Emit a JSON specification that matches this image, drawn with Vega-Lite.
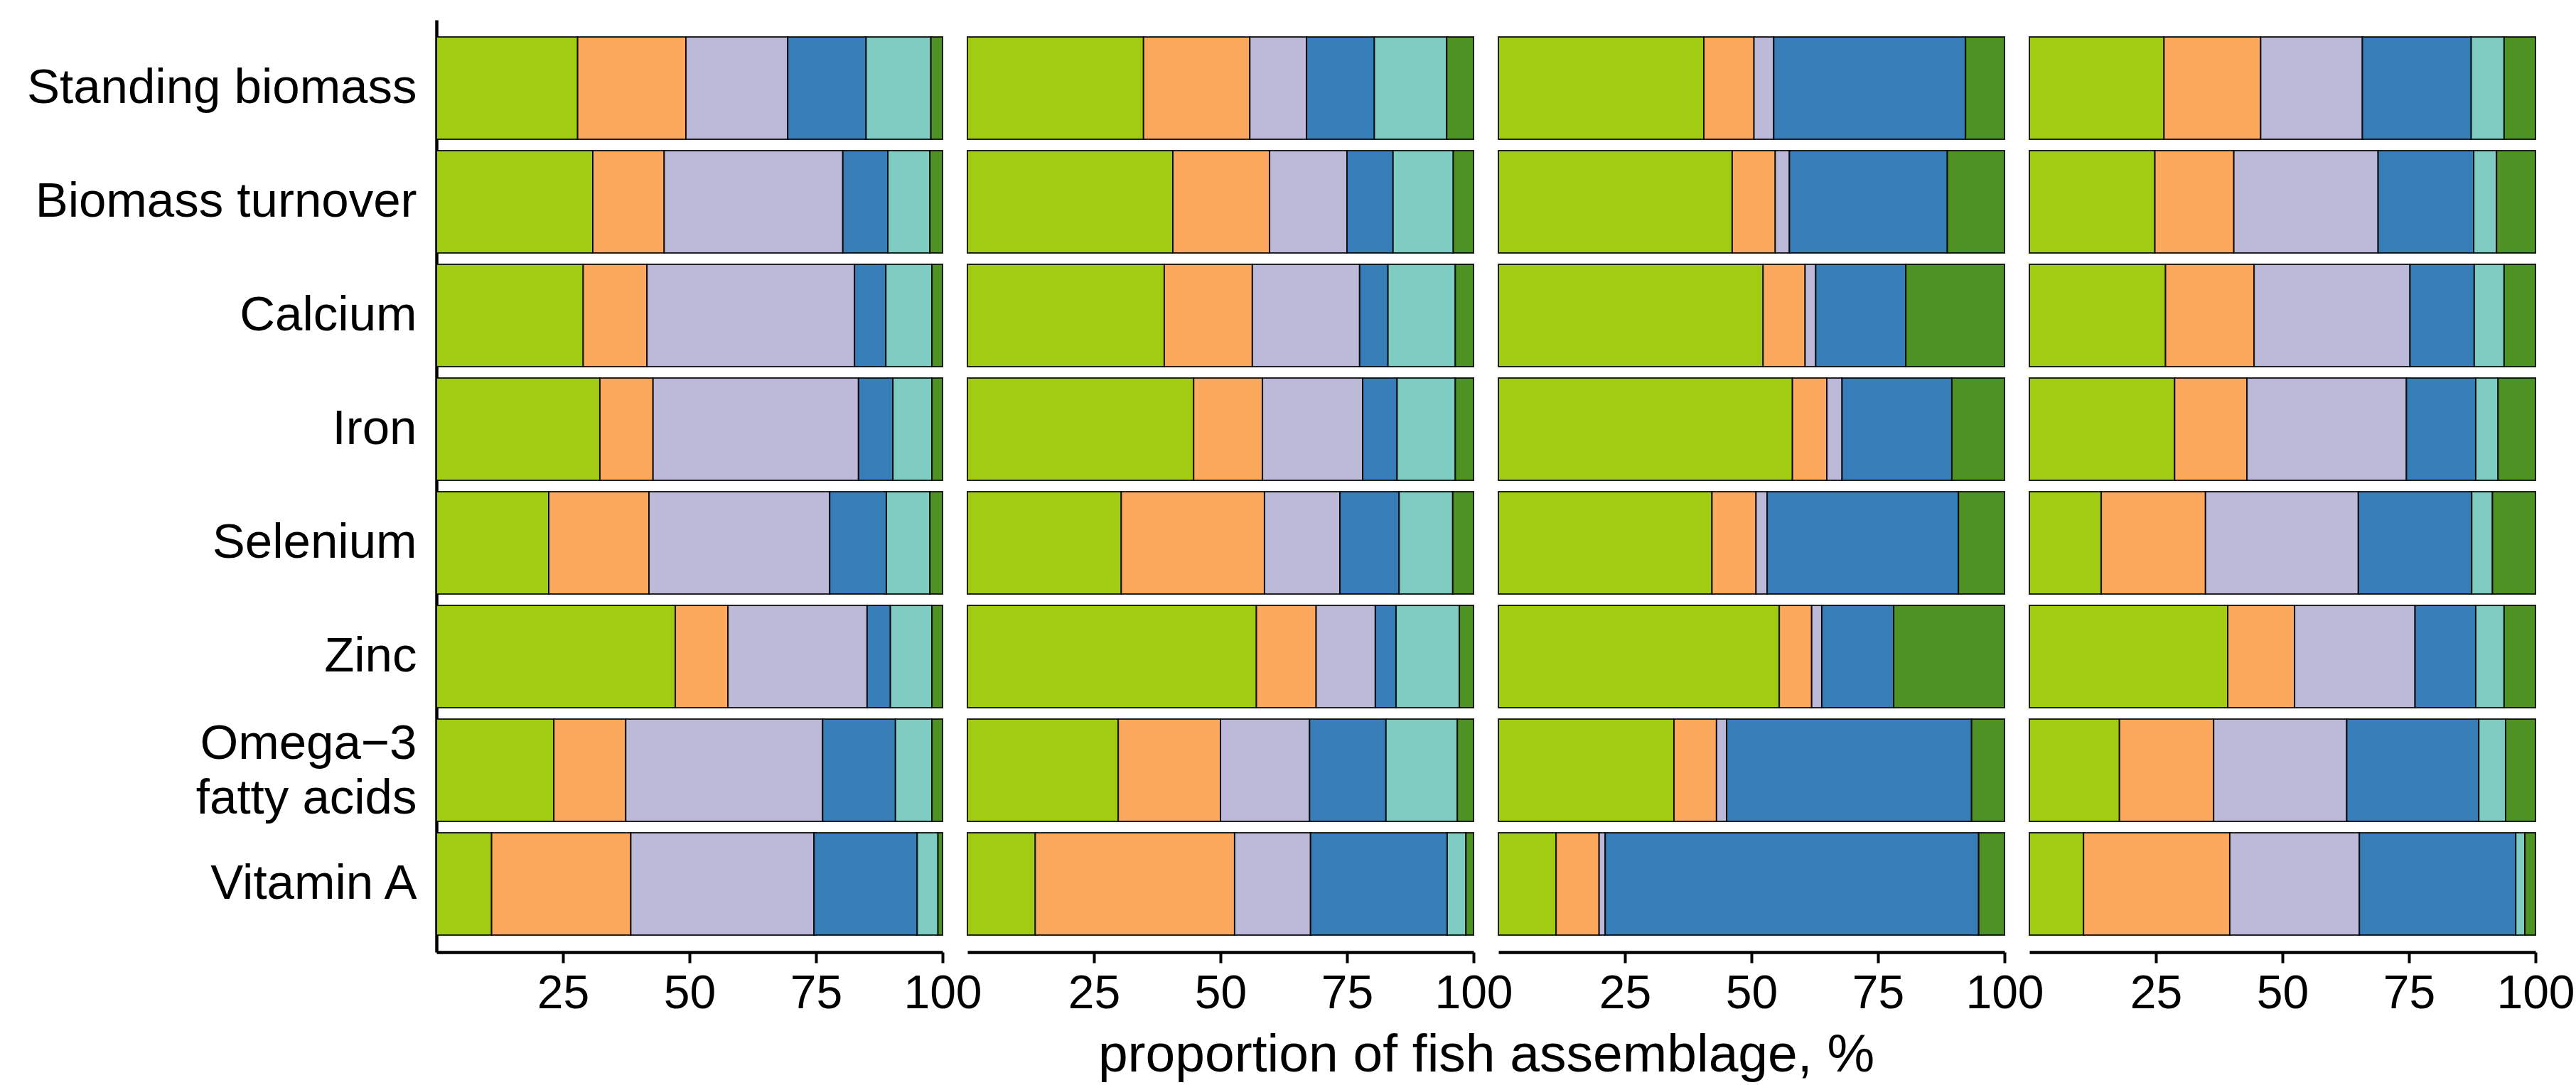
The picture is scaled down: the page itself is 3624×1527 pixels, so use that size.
{
  "$schema": "https://vega.github.io/schema/vega-lite/v6.json",
  "padding": {"left": 37, "top": 28, "right": 2, "bottom": 5},
  "bounds": "flush",
  "background": "white",
  "config": {
    "font": "Liberation Sans",
    "view": {"stroke": null},
    "facet": {"spacing": 35}
  },
  "data": {"values": [
    {"panel":"Panel 1","nutrient":"Standing biomass","group":"Group 1","value":27.9},
    {"panel":"Panel 1","nutrient":"Standing biomass","group":"Group 2","value":21.4},
    {"panel":"Panel 1","nutrient":"Standing biomass","group":"Group 3","value":20.1},
    {"panel":"Panel 1","nutrient":"Standing biomass","group":"Group 4","value":15.5},
    {"panel":"Panel 1","nutrient":"Standing biomass","group":"Group 5","value":12.8},
    {"panel":"Panel 1","nutrient":"Standing biomass","group":"Group 6","value":2.3},
    {"panel":"Panel 1","nutrient":"Biomass turnover","group":"Group 1","value":30.9},
    {"panel":"Panel 1","nutrient":"Biomass turnover","group":"Group 2","value":14.1},
    {"panel":"Panel 1","nutrient":"Biomass turnover","group":"Group 3","value":35.3},
    {"panel":"Panel 1","nutrient":"Biomass turnover","group":"Group 4","value":8.9},
    {"panel":"Panel 1","nutrient":"Biomass turnover","group":"Group 5","value":8.3},
    {"panel":"Panel 1","nutrient":"Biomass turnover","group":"Group 6","value":2.5},
    {"panel":"Panel 1","nutrient":"Calcium","group":"Group 1","value":29.0},
    {"panel":"Panel 1","nutrient":"Calcium","group":"Group 2","value":12.6},
    {"panel":"Panel 1","nutrient":"Calcium","group":"Group 3","value":41.0},
    {"panel":"Panel 1","nutrient":"Calcium","group":"Group 4","value":6.2},
    {"panel":"Panel 1","nutrient":"Calcium","group":"Group 5","value":9.1},
    {"panel":"Panel 1","nutrient":"Calcium","group":"Group 6","value":2.1},
    {"panel":"Panel 1","nutrient":"Iron","group":"Group 1","value":32.3},
    {"panel":"Panel 1","nutrient":"Iron","group":"Group 2","value":10.5},
    {"panel":"Panel 1","nutrient":"Iron","group":"Group 3","value":40.6},
    {"panel":"Panel 1","nutrient":"Iron","group":"Group 4","value":6.8},
    {"panel":"Panel 1","nutrient":"Iron","group":"Group 5","value":7.7},
    {"panel":"Panel 1","nutrient":"Iron","group":"Group 6","value":2.1},
    {"panel":"Panel 1","nutrient":"Selenium","group":"Group 1","value":22.2},
    {"panel":"Panel 1","nutrient":"Selenium","group":"Group 2","value":19.8},
    {"panel":"Panel 1","nutrient":"Selenium","group":"Group 3","value":35.7},
    {"panel":"Panel 1","nutrient":"Selenium","group":"Group 4","value":11.2},
    {"panel":"Panel 1","nutrient":"Selenium","group":"Group 5","value":8.6},
    {"panel":"Panel 1","nutrient":"Selenium","group":"Group 6","value":2.5},
    {"panel":"Panel 1","nutrient":"Zinc","group":"Group 1","value":47.2},
    {"panel":"Panel 1","nutrient":"Zinc","group":"Group 2","value":10.4},
    {"panel":"Panel 1","nutrient":"Zinc","group":"Group 3","value":27.5},
    {"panel":"Panel 1","nutrient":"Zinc","group":"Group 4","value":4.6},
    {"panel":"Panel 1","nutrient":"Zinc","group":"Group 5","value":8.2},
    {"panel":"Panel 1","nutrient":"Zinc","group":"Group 6","value":2.1},
    {"panel":"Panel 1","nutrient":"Omega−3 fatty acids","group":"Group 1","value":23.2},
    {"panel":"Panel 1","nutrient":"Omega−3 fatty acids","group":"Group 2","value":14.2},
    {"panel":"Panel 1","nutrient":"Omega−3 fatty acids","group":"Group 3","value":38.9},
    {"panel":"Panel 1","nutrient":"Omega−3 fatty acids","group":"Group 4","value":14.4},
    {"panel":"Panel 1","nutrient":"Omega−3 fatty acids","group":"Group 5","value":7.2},
    {"panel":"Panel 1","nutrient":"Omega−3 fatty acids","group":"Group 6","value":2.1},
    {"panel":"Panel 1","nutrient":"Vitamin A","group":"Group 1","value":10.9},
    {"panel":"Panel 1","nutrient":"Vitamin A","group":"Group 2","value":27.5},
    {"panel":"Panel 1","nutrient":"Vitamin A","group":"Group 3","value":36.2},
    {"panel":"Panel 1","nutrient":"Vitamin A","group":"Group 4","value":20.4},
    {"panel":"Panel 1","nutrient":"Vitamin A","group":"Group 5","value":4.1},
    {"panel":"Panel 1","nutrient":"Vitamin A","group":"Group 6","value":0.9},

    {"panel":"Panel 2","nutrient":"Standing biomass","group":"Group 1","value":34.8},
    {"panel":"Panel 2","nutrient":"Standing biomass","group":"Group 2","value":21.0},
    {"panel":"Panel 2","nutrient":"Standing biomass","group":"Group 3","value":11.2},
    {"panel":"Panel 2","nutrient":"Standing biomass","group":"Group 4","value":13.4},
    {"panel":"Panel 2","nutrient":"Standing biomass","group":"Group 5","value":14.3},
    {"panel":"Panel 2","nutrient":"Standing biomass","group":"Group 6","value":5.3},
    {"panel":"Panel 2","nutrient":"Biomass turnover","group":"Group 1","value":40.6},
    {"panel":"Panel 2","nutrient":"Biomass turnover","group":"Group 2","value":19.1},
    {"panel":"Panel 2","nutrient":"Biomass turnover","group":"Group 3","value":15.3},
    {"panel":"Panel 2","nutrient":"Biomass turnover","group":"Group 4","value":9.1},
    {"panel":"Panel 2","nutrient":"Biomass turnover","group":"Group 5","value":11.9},
    {"panel":"Panel 2","nutrient":"Biomass turnover","group":"Group 6","value":4.0},
    {"panel":"Panel 2","nutrient":"Calcium","group":"Group 1","value":38.9},
    {"panel":"Panel 2","nutrient":"Calcium","group":"Group 2","value":17.4},
    {"panel":"Panel 2","nutrient":"Calcium","group":"Group 3","value":21.2},
    {"panel":"Panel 2","nutrient":"Calcium","group":"Group 4","value":5.6},
    {"panel":"Panel 2","nutrient":"Calcium","group":"Group 5","value":13.3},
    {"panel":"Panel 2","nutrient":"Calcium","group":"Group 6","value":3.6},
    {"panel":"Panel 2","nutrient":"Iron","group":"Group 1","value":44.7},
    {"panel":"Panel 2","nutrient":"Iron","group":"Group 2","value":13.6},
    {"panel":"Panel 2","nutrient":"Iron","group":"Group 3","value":19.8},
    {"panel":"Panel 2","nutrient":"Iron","group":"Group 4","value":6.8},
    {"panel":"Panel 2","nutrient":"Iron","group":"Group 5","value":11.5},
    {"panel":"Panel 2","nutrient":"Iron","group":"Group 6","value":3.6},
    {"panel":"Panel 2","nutrient":"Selenium","group":"Group 1","value":30.4},
    {"panel":"Panel 2","nutrient":"Selenium","group":"Group 2","value":28.3},
    {"panel":"Panel 2","nutrient":"Selenium","group":"Group 3","value":14.9},
    {"panel":"Panel 2","nutrient":"Selenium","group":"Group 4","value":11.7},
    {"panel":"Panel 2","nutrient":"Selenium","group":"Group 5","value":10.6},
    {"panel":"Panel 2","nutrient":"Selenium","group":"Group 6","value":4.1},
    {"panel":"Panel 2","nutrient":"Zinc","group":"Group 1","value":57.1},
    {"panel":"Panel 2","nutrient":"Zinc","group":"Group 2","value":11.8},
    {"panel":"Panel 2","nutrient":"Zinc","group":"Group 3","value":11.7},
    {"panel":"Panel 2","nutrient":"Zinc","group":"Group 4","value":4.1},
    {"panel":"Panel 2","nutrient":"Zinc","group":"Group 5","value":12.5},
    {"panel":"Panel 2","nutrient":"Zinc","group":"Group 6","value":2.8},
    {"panel":"Panel 2","nutrient":"Omega−3 fatty acids","group":"Group 1","value":29.8},
    {"panel":"Panel 2","nutrient":"Omega−3 fatty acids","group":"Group 2","value":20.2},
    {"panel":"Panel 2","nutrient":"Omega−3 fatty acids","group":"Group 3","value":17.6},
    {"panel":"Panel 2","nutrient":"Omega−3 fatty acids","group":"Group 4","value":15.1},
    {"panel":"Panel 2","nutrient":"Omega−3 fatty acids","group":"Group 5","value":14.1},
    {"panel":"Panel 2","nutrient":"Omega−3 fatty acids","group":"Group 6","value":3.2},
    {"panel":"Panel 2","nutrient":"Vitamin A","group":"Group 1","value":13.4},
    {"panel":"Panel 2","nutrient":"Vitamin A","group":"Group 2","value":39.4},
    {"panel":"Panel 2","nutrient":"Vitamin A","group":"Group 3","value":15.0},
    {"panel":"Panel 2","nutrient":"Vitamin A","group":"Group 4","value":27.0},
    {"panel":"Panel 2","nutrient":"Vitamin A","group":"Group 5","value":3.7},
    {"panel":"Panel 2","nutrient":"Vitamin A","group":"Group 6","value":1.5},

    {"panel":"Panel 3","nutrient":"Standing biomass","group":"Group 1","value":40.6},
    {"panel":"Panel 3","nutrient":"Standing biomass","group":"Group 2","value":9.9},
    {"panel":"Panel 3","nutrient":"Standing biomass","group":"Group 3","value":3.9},
    {"panel":"Panel 3","nutrient":"Standing biomass","group":"Group 4","value":37.9},
    {"panel":"Panel 3","nutrient":"Standing biomass","group":"Group 6","value":7.7},
    {"panel":"Panel 3","nutrient":"Biomass turnover","group":"Group 1","value":46.2},
    {"panel":"Panel 3","nutrient":"Biomass turnover","group":"Group 2","value":8.5},
    {"panel":"Panel 3","nutrient":"Biomass turnover","group":"Group 3","value":2.8},
    {"panel":"Panel 3","nutrient":"Biomass turnover","group":"Group 4","value":31.2},
    {"panel":"Panel 3","nutrient":"Biomass turnover","group":"Group 6","value":11.3},
    {"panel":"Panel 3","nutrient":"Calcium","group":"Group 1","value":52.3},
    {"panel":"Panel 3","nutrient":"Calcium","group":"Group 2","value":8.3},
    {"panel":"Panel 3","nutrient":"Calcium","group":"Group 3","value":2.1},
    {"panel":"Panel 3","nutrient":"Calcium","group":"Group 4","value":17.8},
    {"panel":"Panel 3","nutrient":"Calcium","group":"Group 6","value":19.5},
    {"panel":"Panel 3","nutrient":"Iron","group":"Group 1","value":58.1},
    {"panel":"Panel 3","nutrient":"Iron","group":"Group 2","value":6.8},
    {"panel":"Panel 3","nutrient":"Iron","group":"Group 3","value":3.0},
    {"panel":"Panel 3","nutrient":"Iron","group":"Group 4","value":21.7},
    {"panel":"Panel 3","nutrient":"Iron","group":"Group 6","value":10.4},
    {"panel":"Panel 3","nutrient":"Selenium","group":"Group 1","value":42.2},
    {"panel":"Panel 3","nutrient":"Selenium","group":"Group 2","value":8.7},
    {"panel":"Panel 3","nutrient":"Selenium","group":"Group 3","value":2.2},
    {"panel":"Panel 3","nutrient":"Selenium","group":"Group 4","value":37.8},
    {"panel":"Panel 3","nutrient":"Selenium","group":"Group 6","value":9.1},
    {"panel":"Panel 3","nutrient":"Zinc","group":"Group 1","value":55.5},
    {"panel":"Panel 3","nutrient":"Zinc","group":"Group 2","value":6.4},
    {"panel":"Panel 3","nutrient":"Zinc","group":"Group 3","value":2.0},
    {"panel":"Panel 3","nutrient":"Zinc","group":"Group 4","value":14.2},
    {"panel":"Panel 3","nutrient":"Zinc","group":"Group 6","value":21.9},
    {"panel":"Panel 3","nutrient":"Omega−3 fatty acids","group":"Group 1","value":34.7},
    {"panel":"Panel 3","nutrient":"Omega−3 fatty acids","group":"Group 2","value":8.4},
    {"panel":"Panel 3","nutrient":"Omega−3 fatty acids","group":"Group 3","value":2.0},
    {"panel":"Panel 3","nutrient":"Omega−3 fatty acids","group":"Group 4","value":48.4},
    {"panel":"Panel 3","nutrient":"Omega−3 fatty acids","group":"Group 6","value":6.5},
    {"panel":"Panel 3","nutrient":"Vitamin A","group":"Group 1","value":11.4},
    {"panel":"Panel 3","nutrient":"Vitamin A","group":"Group 2","value":8.5},
    {"panel":"Panel 3","nutrient":"Vitamin A","group":"Group 3","value":1.2},
    {"panel":"Panel 3","nutrient":"Vitamin A","group":"Group 4","value":73.8},
    {"panel":"Panel 3","nutrient":"Vitamin A","group":"Group 6","value":5.1},

    {"panel":"Panel 4","nutrient":"Standing biomass","group":"Group 1","value":26.6},
    {"panel":"Panel 4","nutrient":"Standing biomass","group":"Group 2","value":19.1},
    {"panel":"Panel 4","nutrient":"Standing biomass","group":"Group 3","value":20.1},
    {"panel":"Panel 4","nutrient":"Standing biomass","group":"Group 4","value":21.5},
    {"panel":"Panel 4","nutrient":"Standing biomass","group":"Group 5","value":6.5},
    {"panel":"Panel 4","nutrient":"Standing biomass","group":"Group 6","value":6.2},
    {"panel":"Panel 4","nutrient":"Biomass turnover","group":"Group 1","value":24.8},
    {"panel":"Panel 4","nutrient":"Biomass turnover","group":"Group 2","value":15.6},
    {"panel":"Panel 4","nutrient":"Biomass turnover","group":"Group 3","value":28.5},
    {"panel":"Panel 4","nutrient":"Biomass turnover","group":"Group 4","value":18.9},
    {"panel":"Panel 4","nutrient":"Biomass turnover","group":"Group 5","value":4.5},
    {"panel":"Panel 4","nutrient":"Biomass turnover","group":"Group 6","value":7.7},
    {"panel":"Panel 4","nutrient":"Calcium","group":"Group 1","value":26.9},
    {"panel":"Panel 4","nutrient":"Calcium","group":"Group 2","value":17.5},
    {"panel":"Panel 4","nutrient":"Calcium","group":"Group 3","value":30.8},
    {"panel":"Panel 4","nutrient":"Calcium","group":"Group 4","value":12.7},
    {"panel":"Panel 4","nutrient":"Calcium","group":"Group 5","value":5.9},
    {"panel":"Panel 4","nutrient":"Calcium","group":"Group 6","value":6.2},
    {"panel":"Panel 4","nutrient":"Iron","group":"Group 1","value":28.7},
    {"panel":"Panel 4","nutrient":"Iron","group":"Group 2","value":14.3},
    {"panel":"Panel 4","nutrient":"Iron","group":"Group 3","value":31.5},
    {"panel":"Panel 4","nutrient":"Iron","group":"Group 4","value":13.7},
    {"panel":"Panel 4","nutrient":"Iron","group":"Group 5","value":4.4},
    {"panel":"Panel 4","nutrient":"Iron","group":"Group 6","value":7.4},
    {"panel":"Panel 4","nutrient":"Selenium","group":"Group 1","value":14.2},
    {"panel":"Panel 4","nutrient":"Selenium","group":"Group 2","value":20.6},
    {"panel":"Panel 4","nutrient":"Selenium","group":"Group 3","value":30.2},
    {"panel":"Panel 4","nutrient":"Selenium","group":"Group 4","value":22.4},
    {"panel":"Panel 4","nutrient":"Selenium","group":"Group 5","value":4.1},
    {"panel":"Panel 4","nutrient":"Selenium","group":"Group 6","value":8.5},
    {"panel":"Panel 4","nutrient":"Zinc","group":"Group 1","value":39.2},
    {"panel":"Panel 4","nutrient":"Zinc","group":"Group 2","value":13.2},
    {"panel":"Panel 4","nutrient":"Zinc","group":"Group 3","value":23.8},
    {"panel":"Panel 4","nutrient":"Zinc","group":"Group 4","value":12.0},
    {"panel":"Panel 4","nutrient":"Zinc","group":"Group 5","value":5.6},
    {"panel":"Panel 4","nutrient":"Zinc","group":"Group 6","value":6.2},
    {"panel":"Panel 4","nutrient":"Omega−3 fatty acids","group":"Group 1","value":17.8},
    {"panel":"Panel 4","nutrient":"Omega−3 fatty acids","group":"Group 2","value":18.6},
    {"panel":"Panel 4","nutrient":"Omega−3 fatty acids","group":"Group 3","value":26.3},
    {"panel":"Panel 4","nutrient":"Omega−3 fatty acids","group":"Group 4","value":26.1},
    {"panel":"Panel 4","nutrient":"Omega−3 fatty acids","group":"Group 5","value":5.3},
    {"panel":"Panel 4","nutrient":"Omega−3 fatty acids","group":"Group 6","value":5.9},
    {"panel":"Panel 4","nutrient":"Vitamin A","group":"Group 1","value":10.7},
    {"panel":"Panel 4","nutrient":"Vitamin A","group":"Group 2","value":28.9},
    {"panel":"Panel 4","nutrient":"Vitamin A","group":"Group 3","value":25.6},
    {"panel":"Panel 4","nutrient":"Vitamin A","group":"Group 4","value":30.9},
    {"panel":"Panel 4","nutrient":"Vitamin A","group":"Group 5","value":1.8},
    {"panel":"Panel 4","nutrient":"Vitamin A","group":"Group 6","value":2.1}
  ]},
  "facet": {
    "column": {
      "field": "panel",
      "type": "nominal",
      "sort": ["Panel 1", "Panel 2", "Panel 3", "Panel 4"],
      "header": {
        "labels": false,
        "title": "proportion of fish assemblage, %",
        "titleOrient": "bottom",
        "titleFontSize": 75,
        "titleFontWeight": "normal",
        "titleColor": "black",
        "titleFont": "Liberation Sans",
        "titlePadding": 8
      }
    }
  },
  "spec": {
    "width": 712,
    "height": 1312,
    "mark": {"type": "bar", "stroke": "black", "strokeWidth": 2, "strokeOpacity": 0.85},
    "encoding": {
      "y": {
        "field": "nutrient",
        "type": "nominal",
        "sort": ["Standing biomass", "Biomass turnover", "Calcium", "Iron", "Selenium", "Zinc", "Omega−3 fatty acids", "Vitamin A"],
        "scale": {"paddingInner": 0.1, "paddingOuter": 0.15},
        "axis": {
          "title": null,
          "ticks": false,
          "domainColor": "black",
          "domainWidth": 4.5,
          "labelFontSize": 69,
          "labelColor": "black",
          "labelFont": "Liberation Sans",
          "labelPadding": 28,
          "labelLimit": 1000,
          "labelLineHeight": 77,
          "labelOffset": {"condition": {"test": "datum.value == 'Omega−3 fatty acids'", "value": -37}, "value": 0},
          "labelExpr": "datum.value == 'Omega−3 fatty acids' ? ['Omega−3', 'fatty acids'] : datum.label"
        }
      },
      "x": {
        "field": "value",
        "type": "quantitative",
        "stack": "zero",
        "scale": {"domain": [0, 100], "nice": false, "zero": true},
        "axis": {
          "title": null,
          "values": [25, 50, 75, 100],
          "grid": false,
          "domainColor": "black",
          "domainWidth": 4.5,
          "tickColor": "black",
          "tickWidth": 4,
          "tickSize": 15,
          "labelFontSize": 66,
          "labelColor": "black",
          "labelFont": "Liberation Sans",
          "labelPadding": 11,
          "labelFlush": false,
          "labelOverlap": false
        }
      },
      "color": {
        "field": "group",
        "type": "nominal",
        "scale": {
          "domain": ["Group 1", "Group 2", "Group 3", "Group 4", "Group 5", "Group 6"],
          "range": ["#A1CC12", "#FCA95E", "#BDB9D9", "#377DB8", "#7FCDC2", "#4D9222"]
        },
        "legend": null
      },
      "order": {"field": "group", "type": "ordinal", "sort": "ascending"}
    }
  }
}
